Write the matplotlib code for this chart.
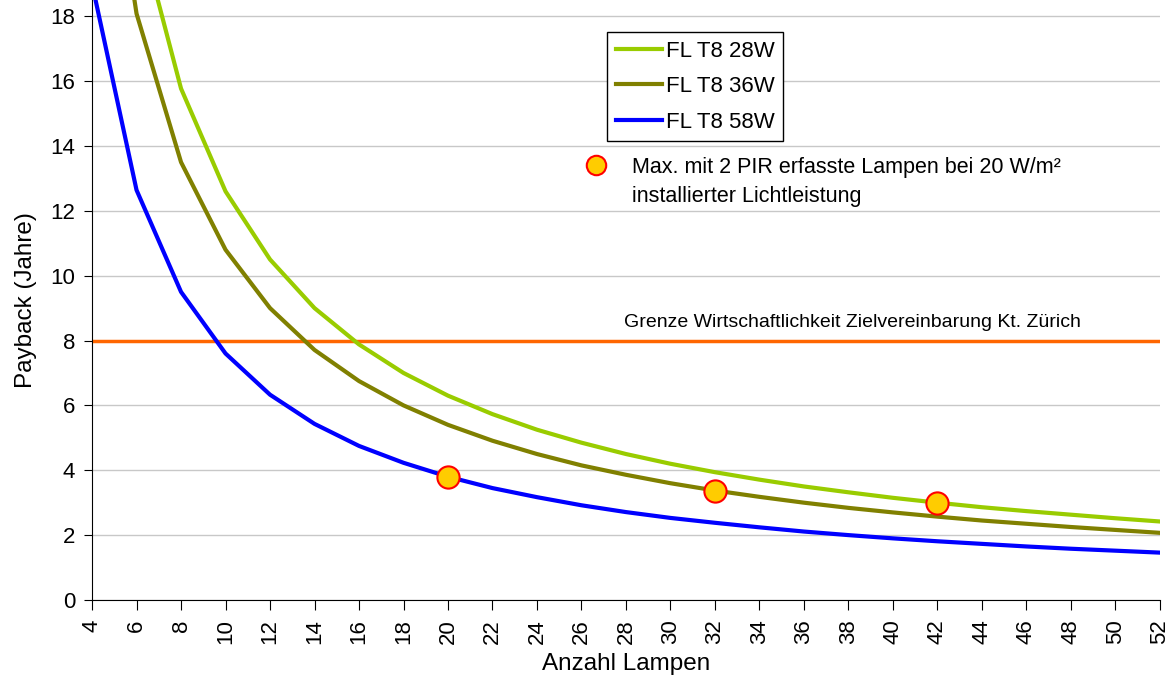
import matplotlib.pyplot as plt

plt.rcParams['font.family'] = ['Liberation Sans', 'DejaVu Sans']

# Anzahl Lampen
lampen = [4, 6, 8, 10, 12, 14, 16, 18, 20, 22, 24, 26, 28,
          30, 32, 34, 36, 38, 40, 42, 44, 46, 48, 50, 52]

# Payback in Jahren je Lampentyp
fl_28w = [31.5, 21.0, 15.77, 12.6, 10.5, 9.0, 7.88, 7.0, 6.3, 5.73, 5.25, 4.85, 4.5,
          4.2, 3.94, 3.71, 3.5, 3.32, 3.15, 3.0, 2.86, 2.74, 2.63, 2.52, 2.42]
fl_36w = [27.0, 18.08, 13.5, 10.8, 9.0, 7.71, 6.75, 6.0, 5.4, 4.91, 4.5, 4.15, 3.86,
          3.6, 3.375, 3.18, 3.0, 2.84, 2.7, 2.57, 2.45, 2.35, 2.25, 2.16, 2.07]
fl_58w = [19.0, 12.64, 9.5, 7.6, 6.33, 5.43, 4.75, 4.23, 3.8, 3.45, 3.17, 2.92, 2.71,
          2.53, 2.38, 2.24, 2.11, 2.0, 1.9, 1.81, 1.73, 1.65, 1.58, 1.52, 1.46]

# max. erfasste Lampen mit 2 PIR
pir_x = [20, 32, 42]
pir_y = [3.8, 3.375, 3.0]

grenze = 8

fig = plt.figure(figsize=(11.74, 6.86), dpi=100)
ax = fig.add_axes([0.0784, 0.1254, 0.9096, 0.8746])

ax.plot(lampen, fl_28w, color='#99CC00', lw=3, label='FL T8 28W', zorder=3)
ax.plot(lampen, fl_36w, color='#808000', lw=3, label='FL T8 36W', zorder=3)
ax.plot(lampen, fl_58w, color='#0000FF', lw=3, label='FL T8 58W', zorder=3)
ax.axhline(grenze, color='#FF6600', lw=2.5, zorder=2)
ax.plot(pir_x, pir_y, 'o', ms=16, mfc='#FFCC00', mec='#FF0000', mew=1.5,
        zorder=4, ls='none')

ax.text(38.16, 8.57, 'Grenze Wirtschaftlichkeit Zielvereinbarung Kt. Zürich',
        ha='center', va='center', fontsize=14)

# Legende für die Markierungen
ax.plot([26.65], [13.41], 'o', ms=14, mfc='#FFCC00', mec='#FF0000', mew=1.5,
        clip_on=False)
ax.text(28.27, 13.35, 'Max. mit 2 PIR erfasste Lampen bei 20 W/m²',
        ha='left', va='center', fontsize=15.5)
ax.text(28.27, 12.45, 'installierter Lichtleistung',
        ha='left', va='center', fontsize=15.5)

leg = ax.legend(loc='upper left', bbox_to_anchor=(0.482, 0.947), fontsize=16,
                fancybox=False, edgecolor='black', framealpha=1,
                handlelength=2.1, handletextpad=0.15, borderpad=0.4,
                labelspacing=0.65, borderaxespad=0)
leg.get_frame().set_linewidth(1)

ax.set_xlim(4, 52)
ax.set_ylim(0, 18.5)
ax.set_xticks(lampen)
ax.set_yticks(range(0, 19, 2))
ax.tick_params(axis='x', labelrotation=90, labelsize=16, direction='out',
               length=7, pad=7)
ax.tick_params(axis='y', labelsize=16, direction='out', length=6, pad=6)
ax.yaxis.grid(True, color='#C8C8C8', lw=1)
ax.set_axisbelow(True)
for s in ['top', 'right']:
    ax.spines[s].set_visible(False)
ax.spines['left'].set_color('black')
ax.spines['bottom'].set_color('black')

ax.set_xlabel('Anzahl Lampen', fontsize=17.5, labelpad=6)
ax.set_ylabel('Payback (Jahre)', fontsize=17.5, labelpad=10)

fig.savefig('out.png', dpi=100)
